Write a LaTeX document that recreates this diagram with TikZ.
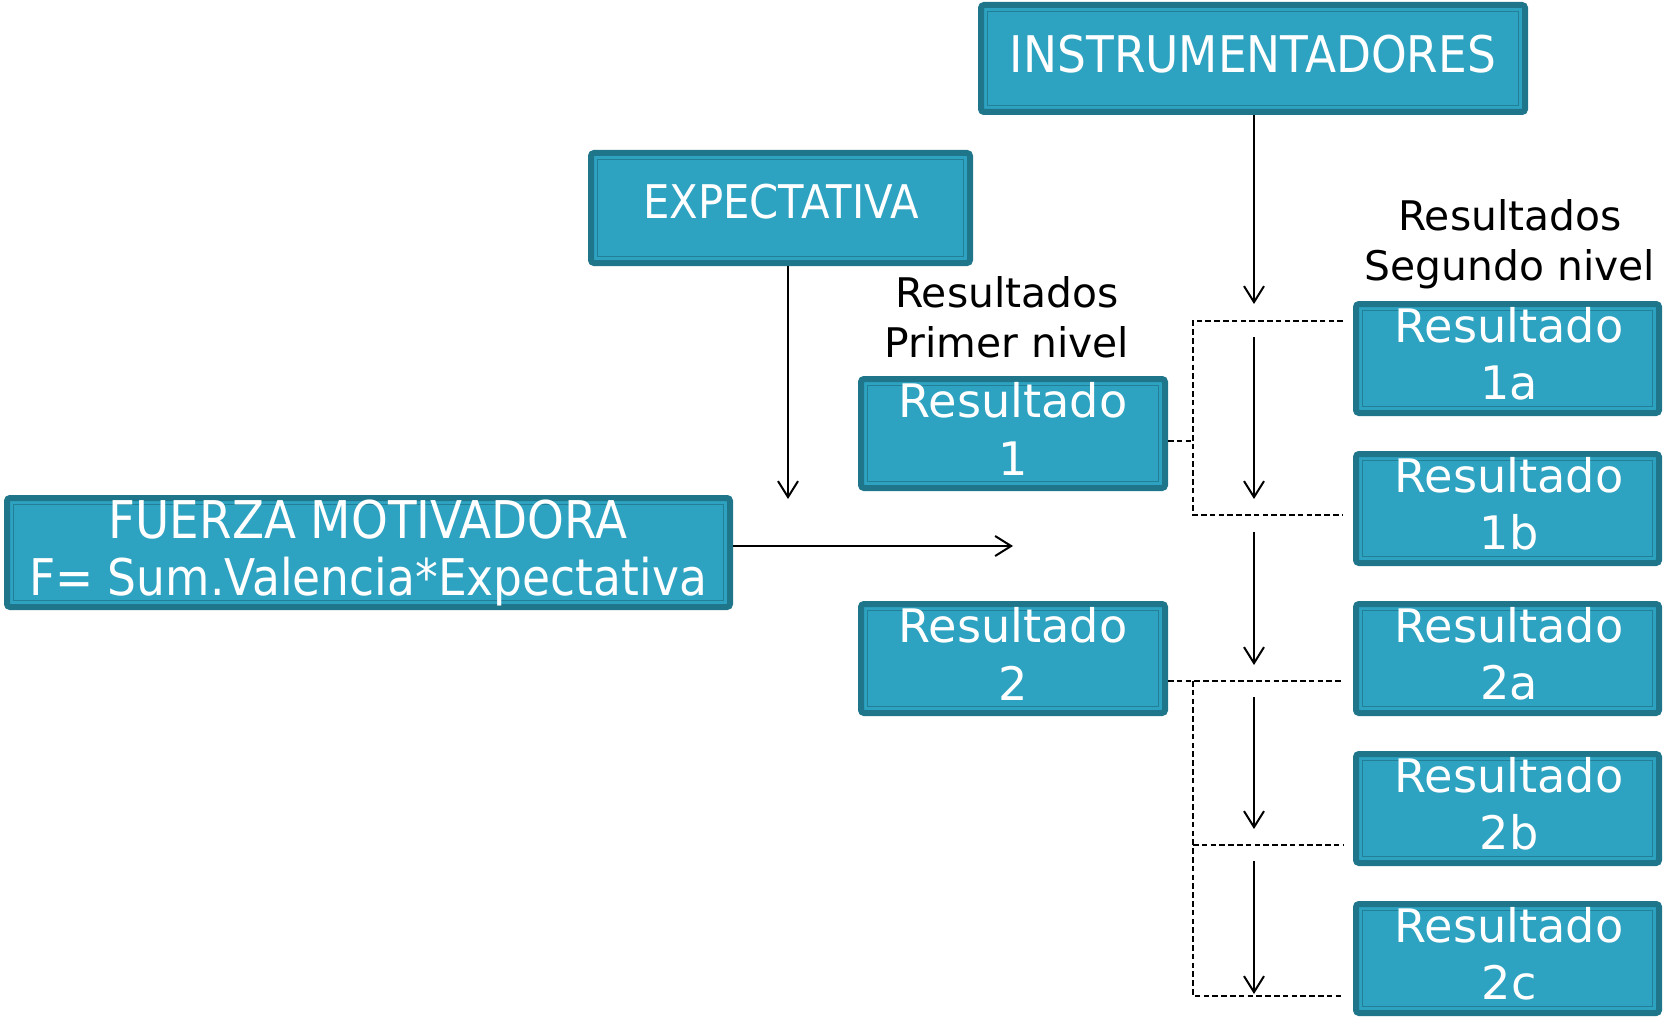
\documentclass[tikz,border=0pt]{standalone}
\usepackage{fontspec}
\setmainfont{DejaVu Sans}
\newfontfamily\capsf[FakeStretch=0.9]{DejaVu Sans}
\usetikzlibrary{arrows.meta}
\definecolor{boxdark}{HTML}{1F768B}
\definecolor{boxfill}{HTML}{2DA3C1}
\definecolor{boxline}{HTML}{237F95}
\tikzset{
  box/.style={draw=boxdark, line width=3pt, fill=boxfill, rounded corners=1.5pt, inner sep=0pt,
    path picture={\draw[boxline, line width=0.85pt, sharp corners]
      ([xshift=3.3pt,yshift=-3.3pt]path picture bounding box.north west) rectangle
      ([xshift=-3.3pt,yshift=3.3pt]path picture bounding box.south east);}},
  rbox/.style={box, minimum width=152pt, minimum height=54.5pt},
  wtxt/.style={text=white, inner sep=0pt, anchor=base},
  btxt/.style={text=black, inner sep=0pt, anchor=base},
  rfont/.style={font=\fontsize{23.1pt}{27pt}\selectfont},
  lfont/.style={font=\fontsize{20.4pt}{24pt}\selectfont},
  arr/.style={draw=black, line width=1pt, -{Straight Barb[length=8pt,width=10pt]}},
  dsh/.style={draw=black, line width=0.7pt, dash pattern=on 2.8pt off 1.6pt}
}
\begin{document}
\begin{tikzpicture}[x=0.5pt,y=-0.5pt]
\useasboundingbox (0,0) rectangle (1663,1016);
% boxes
\node[box, minimum width=272pt, minimum height=53.5pt] (ins) at (1253,58.5) {};
\node[box, minimum width=189.5pt, minimum height=55pt] (exp) at (780.5,208) {};
\node[box, minimum width=361.5pt, minimum height=54.5pt] (fz) at (368.5,552.5) {};
\node[rbox] (r1) at (1013,433.5) {};
\node[rbox] (r2) at (1013,658.5) {};
\node[rbox, minimum width=151.5pt] (r1a) at (1507.5,358.5) {};
\node[rbox, minimum width=151.5pt] (r1b) at (1507.5,508.5) {};
\node[rbox, minimum width=151.5pt] (r2a) at (1507.5,658.5) {};
\node[rbox, minimum width=151.5pt] (r2b) at (1507.5,808.5) {};
\node[rbox, minimum width=151.5pt] (r2c) at (1507.5,958.5) {};
% box texts
\node[wtxt, font=\capsf\fontsize{25.25pt}{30pt}\selectfont] (inst) at (1253,73) {INSTRUMENTADORES};
\node[wtxt, font=\capsf\fontsize{23.2pt}{27pt}\selectfont] (expt) at (781,219) {EXPECTATIVA};
\node[wtxt, font=\capsf\fontsize{26pt}{30pt}\selectfont] (fzt1) at (368,538) {FUERZA MOTIVADORA};
\node[wtxt, font=\capsf\fontsize{25.3pt}{30pt}\selectfont] (fzt2) at (368,595) {F= Sum.Valencia*Expectativa};
\node[wtxt, rfont] (r1t1) at (1013,417) {Resultado};
\node[wtxt, rfont] (r1t2) at (1013,475) {1};
\node[wtxt, rfont] (r2t1) at (1013,642) {Resultado};
\node[wtxt, rfont] (r2t2) at (1013,700) {2};
\node[wtxt, rfont] (r1at1) at (1509,342) {Resultado};
\node[wtxt, rfont] (r1at2) at (1509,399) {1a};
\node[wtxt, rfont] (r1bt1) at (1509,492) {Resultado};
\node[wtxt, rfont] (r1bt2) at (1509,549) {1b};
\node[wtxt, rfont] (r2at1) at (1509,642) {Resultado};
\node[wtxt, rfont] (r2at2) at (1509,699) {2a};
\node[wtxt, rfont] (r2bt1) at (1509,792) {Resultado};
\node[wtxt, rfont] (r2bt2) at (1509,849) {2b};
\node[wtxt, rfont] (r2ct1) at (1509,942) {Resultado};
\node[wtxt, rfont] (r2ct2) at (1509,999) {2c};
% labels
\node[btxt, lfont] (p1) at (1007,307) {Resultados};
\node[btxt, lfont] (p2) at (1007,357) {Primer nivel};
\node[btxt, lfont] (s1) at (1510,230) {Resultados};
\node[btxt, lfont] (s2) at (1510,280) {Segundo nivel};
% arrow end points
\coordinate (ea) at (788,499);
\coordinate (fa) at (1013,546);
\coordinate (ia) at (1254,304);
\coordinate (v1s) at (1254,337); \coordinate (v1e) at (1254,499);
\coordinate (v2s) at (1254,532); \coordinate (v2e) at (1254,665);
\coordinate (v3s) at (1254,697); \coordinate (v3e) at (1254,829);
\coordinate (v4s) at (1254,861); \coordinate (v4e) at (1254,994);
\draw[arr] (exp.south -| ea) -- (ea);
\draw[arr] (fz.east |- fa) -- (fa);
\draw[arr] (ins.south -| ia) -- (ia);
\draw[arr] (v1s) -- (v1e);
\draw[arr] (v2s) -- (v2e);
\draw[arr] (v3s) -- (v3e);
\draw[arr] (v4s) -- (v4e);
% dashed brackets
\coordinate (b1) at (1193,441);
\coordinate (b1t) at (1193,321); \coordinate (b1b) at (1193,515);
\coordinate (e1a) at (1343,321); \coordinate (e1b) at (1343,515);
\draw[dsh] (r1.east |- b1) -- (b1);
\draw[dsh] (e1a) -- (b1t) -- (b1b) -- (e1b);
\coordinate (b2) at (1193,681); \coordinate (e2a) at (1343,681);
\coordinate (b2m) at (1193,845); \coordinate (e2b) at (1343,845);
\coordinate (b2b) at (1193,996); \coordinate (e2c) at (1343,996);
\draw[dsh] (r2.east |- b2) -- (e2a);
\draw[dsh] (b2) -- (b2b) -- (e2c);
\draw[dsh] (b2m) -- (e2b);
\end{tikzpicture}
\end{document}
